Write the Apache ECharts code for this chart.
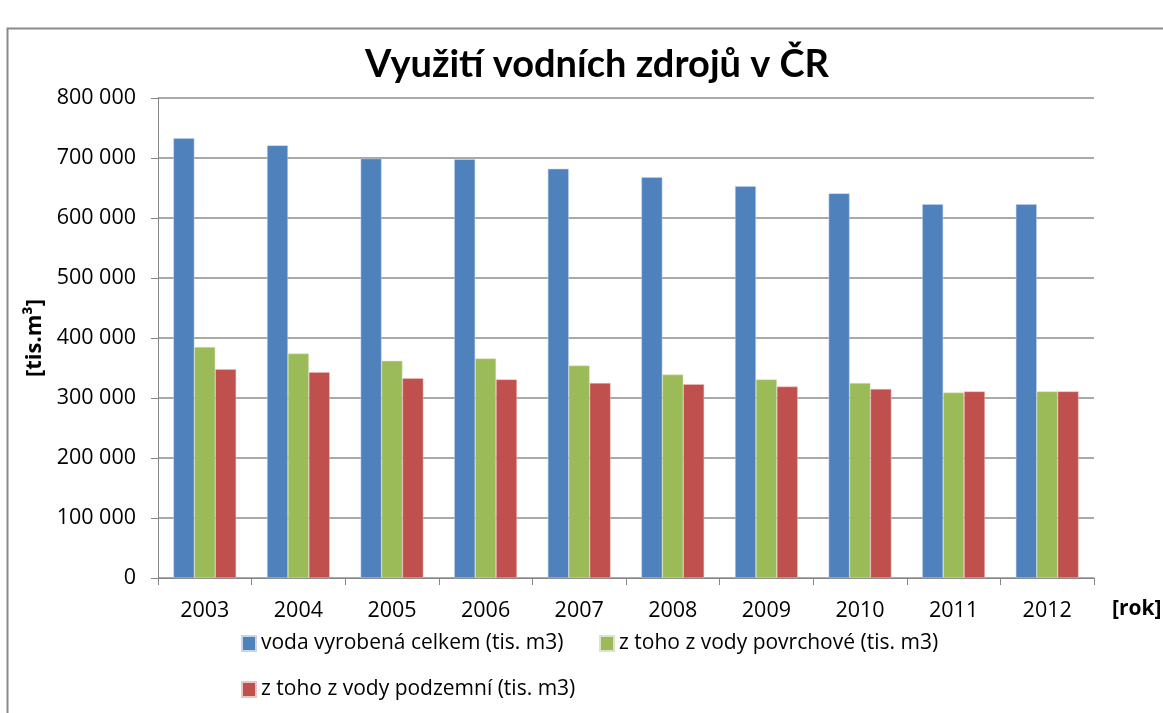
<!DOCTYPE html>
<html><head><meta charset="utf-8">
<script src="https://cdn.jsdelivr.net/npm/echarts@6/dist/echarts.min.js"></script>
<style>html,body{margin:0;padding:0;background:#fff}#c{width:1163px;height:713px}</style>
</head><body><div id="c"></div>
<script>
const categories = ['2003','2004','2005','2006','2007','2008','2009','2010','2011','2012'];
const seriesNames = ['voda vyrobená celkem (tis. m3)','z toho z vody povrchové (tis. m3)','z toho z vody podzemní (tis. m3)'];
const totalWater = [733000,721000,699000,698000,682000,668000,653000,641000,623000,623000];
const surfaceWater = [385000,374000,362000,366000,354000,339000,331000,325000,309000,311000];
const groundWater = [348000,343000,333000,331000,325000,323000,319000,315000,311000,311000];
const colors = ['#4F81BD','#9BBB59','#C0504D'];
const FONT = '"Open Sans", sans-serif';
const TFONT = 'Lato, "Open Sans", sans-serif';

const chart = echarts.init(document.getElementById('c'));
const fmt = v => String(v).replace(/\B(?=(\d{3})+(?!\d))/g, ' ');
const legendStyle = {textStyle:{fontFamily:FONT,fontSize:21,color:'#000'},itemWidth:14,itemHeight:15,icon:'rect',itemGap:6};
chart.setOption({
  animation:false,
  color: colors,
  title:{text:'Využití vodních zdrojů v ČR',left:592,top:41,textAlign:'center',
    textStyle:{fontFamily:TFONT,fontSize:38,fontWeight:'bold',color:'#000'}},
  graphic:[{type:'polyline',shape:{points:[[7.5,713],[7.5,28.5],[1163,28.5]]},style:{stroke:'#8a8a8a',lineWidth:2,fill:null}},
           {type:'text',left:1112,top:599,style:{text:'[rok]',font:'bold 21px '+FONT,fill:'#000'}}],
  legend:[
    Object.assign({data:[seriesNames[0]],left:236,top:628},legendStyle),
    Object.assign({data:[seriesNames[1]],left:594,top:628},legendStyle),
    Object.assign({data:[seriesNames[2]],left:236,top:674},legendStyle)
  ],
  grid:{left:158,right:69,top:98,bottom:135},
  xAxis:{type:'category',data:categories,
    axisLine:{lineStyle:{color:'#868686'}},
    axisTick:{show:true,length:7,lineStyle:{color:'#868686'}},
    axisLabel:{fontFamily:FONT,fontSize:21.5,color:'#000',margin:22}},
  yAxis:{type:'value',min:0,max:800000,interval:100000,
    name:'[tis.m³]',nameLocation:'middle',nameGap:102,nameRotate:90,
    nameTextStyle:{fontFamily:FONT,fontSize:22,fontWeight:'bold',color:'#000'},
    axisLine:{show:true,lineStyle:{color:'#868686'}},
    axisTick:{show:true,length:7,lineStyle:{color:'#868686'}},
    splitLine:{lineStyle:{color:'#8c8c8c',width:1.5}},
    axisLabel:{fontFamily:FONT,fontSize:21.5,color:'#000',margin:22,formatter:fmt}},
  series:[
    {name:seriesNames[0],type:'bar',data:totalWater,barGap:'0%',barCategoryGap:'33%',itemStyle:{borderColor:'#c6d5ea',borderWidth:0.5}},
    {name:seriesNames[1],type:'bar',data:surfaceWater,barGap:'0%',barCategoryGap:'33%',itemStyle:{borderColor:'#d8e6c4',borderWidth:0.5}},
    {name:seriesNames[2],type:'bar',data:groundWater,barGap:'0%',barCategoryGap:'33%',itemStyle:{borderColor:'#ecc4c3',borderWidth:0.5}}
  ]
});
</script></body></html>
